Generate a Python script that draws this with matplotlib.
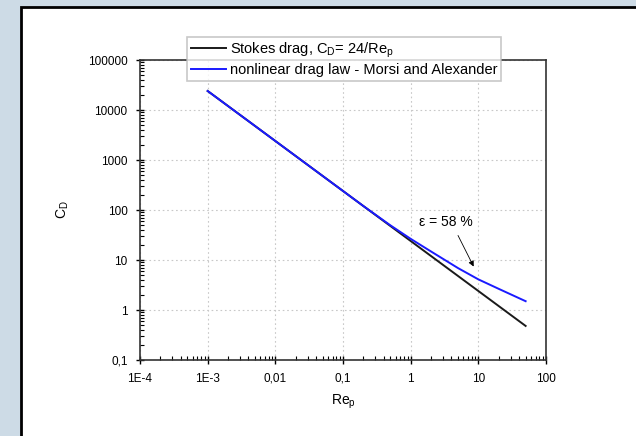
import matplotlib
matplotlib.use("Agg")
import matplotlib.pyplot as plt
from matplotlib.patches import Rectangle
from matplotlib.ticker import LogLocator, NullFormatter

plt.rcParams["font.family"] = ["Liberation Sans", "DejaVu Sans"]

# Stokes drag C_D = 24/Re_p (straight line in log-log)
re_stokes = [1e-3, 0.01, 0.1, 1, 10, 50]
cd_stokes = [24000, 2400, 240, 24, 2.4, 0.48]

# nonlinear drag law (Morsi & Alexander)
re_morsi = [1e-3, 0.01, 0.1, 0.2, 0.5, 1, 2, 5, 10, 20, 50]
cd_morsi = [24000, 2400, 240, 120, 49.5, 26.5, 14.8, 6.9, 4.1, 2.65, 1.5]

xticks = [1e-4, 1e-3, 1e-2, 1e-1, 1, 10, 100]
xlabels = ["1E-4", "1E-3", "0,01", "0,1", "1", "10", "100"]
yticks = [0.1, 1, 10, 100, 1000, 10000, 100000]
ylabels = ["0,1", "1", "10", "100", "1000", "10000", "100000"]

fig = plt.figure(figsize=(6.36, 4.36), dpi=100)
fig.patch.set_facecolor("#cddbe6")
# white slide panel with black border, behind the axes
fig.patches.append(Rectangle((21 / 636, -0.1), 1.1, 1.1 - 7 / 436,
                             transform=fig.transFigure, facecolor="white",
                             edgecolor="black", lw=2, zorder=-10))

ax = fig.add_axes([140 / 636, 1 - 360 / 436, 406 / 636, 300 / 436])
ax.set_xscale("log"); ax.set_yscale("log")
ax.set_xlim(1e-4, 100); ax.set_ylim(0.1, 100000)

ax.plot(re_stokes, cd_stokes, color="#1a1a1a", lw=1.4, label="Stokes drag, C$_\\mathregular{D}$= 24/Re$_\\mathregular{p}$")
ax.plot(re_morsi, cd_morsi, color="#1a1aff", lw=1.4, label="nonlinear drag law - Morsi and Alexander")

ax.set_xticks(xticks, xlabels); ax.set_yticks(yticks, ylabels)
ax.xaxis.set_minor_locator(LogLocator(base=10, subs=range(2, 10), numticks=20))
ax.yaxis.set_minor_locator(LogLocator(base=10, subs=range(2, 10), numticks=20))
ax.xaxis.set_minor_formatter(NullFormatter()); ax.yaxis.set_minor_formatter(NullFormatter())
ax.tick_params(which="major", direction="inout", length=6, width=1, labelsize=8.5)
ax.tick_params(axis="x", which="major", pad=6)
ax.tick_params(axis="y", which="major", pad=6)
ax.tick_params(which="minor", direction="in", length=3, width=0.8)
ax.grid(True, which="major", ls=(0, (1.5, 2.5)), color="#c8c8c8", lw=0.8)
for s in ax.spines.values():
    s.set_linewidth(1.2); s.set_color("#333333")

ax.set_xlabel("Re$_\\mathregular{p}$", fontsize=10, labelpad=6)
ax.set_ylabel("C$_\\mathregular{D}$", fontsize=10, labelpad=12)

ax.text(3.3, 57.5, "\u03b5 = 58 %", fontsize=10, ha="center", va="center")
ax.annotate("", xy=(8.9, 6.6), xytext=(4.8, 34.7),
            arrowprops=dict(arrowstyle="-|>", color="black", lw=0.6, mutation_scale=8))

leg = ax.legend(loc="upper left", bbox_to_anchor=(187 / 636, 1 - 37 / 436), bbox_transform=fig.transFigure,
                fontsize=10.5, frameon=True, fancybox=False, edgecolor="#bbbbbb",
                handlelength=2.4, handletextpad=0.3, borderpad=0.25, labelspacing=0.2, borderaxespad=0)
leg.get_frame().set_linewidth(1.2)

fig.savefig("out.png", dpi=100, facecolor=fig.get_facecolor())
